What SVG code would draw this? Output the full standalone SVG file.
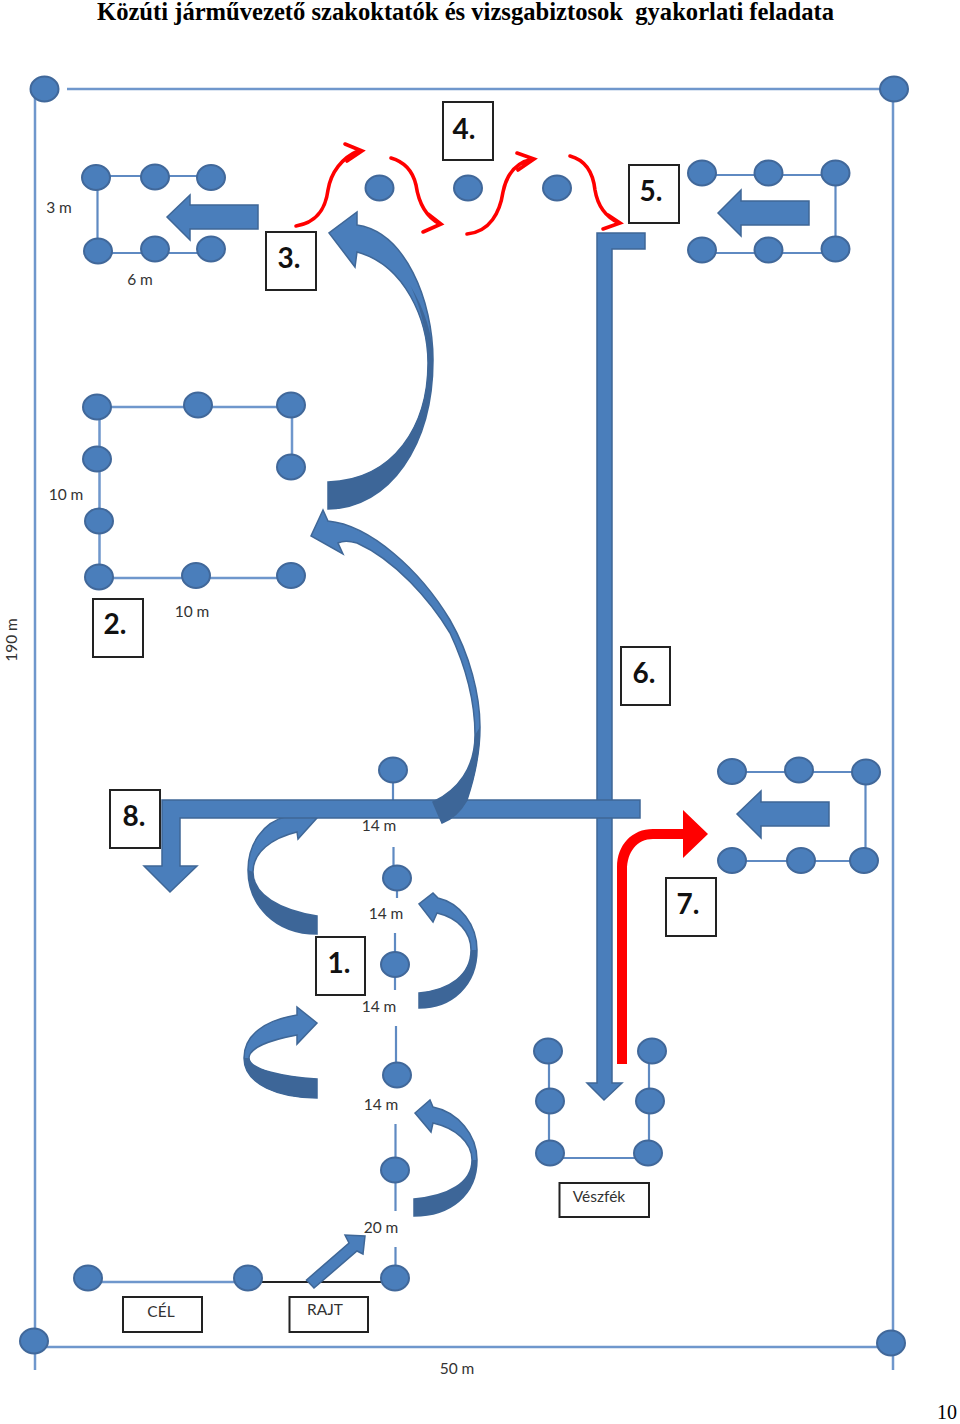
<svg xmlns="http://www.w3.org/2000/svg" width="960" height="1424" viewBox="0 0 960 1424">
<style>
.bg{fill:#fff}
.f{fill:none;stroke:#6f97cc;stroke-width:2.5}
.l{fill:none;stroke:#5f8ac2;stroke-width:2.2}
.c{fill:#4a7ebb;stroke:#41689a;stroke-width:2}
.a{fill:#4a7ebb;stroke:#3f6797;stroke-width:1.5;stroke-linejoin:miter}
.d{fill:#3d6698;stroke:none}
.r{fill:none;stroke:#f00;stroke-width:3.600;stroke-linecap:round}
.b{fill:#fff;stroke:#222;stroke-width:2}
.n{font:bold 28px Lato,"Liberation Sans",sans-serif;fill:#111;text-anchor:middle}
.s{font:15.500px Lato,"Liberation Sans",sans-serif;fill:#333;text-anchor:middle}
</style>
<rect class="bg" width="960" height="1424"/>
<text id="title" x="97" y="20" xml:space="preserve" font-family="'Liberation Serif',serif" font-weight="bold" font-size="24.600" fill="#000">Közúti járművezető szakoktatók és vizsgabiztosok  gyakorlati feladata</text>
<text id="page" x="957" y="1419" text-anchor="end" font-family="'Liberation Serif',serif" font-size="20" fill="#000">10</text>

<g id="connectors">
<path class="f" d="M67,89H893M35,89V1370M893,89V1370M34,1347H891"/>
<path class="l" d="M96,176H211M97.500,177V251M98,253H211"/>
<path class="l" d="M702,175H835M835.500,173V250M702,253H835"/>
<path class="f" d="M97,407H291M292,405V467M99.500,407V577M99,578H291"/>
<path class="l" d="M732,772H866M865.500,772V860M732,861H864"/>
<path class="l" d="M549,1051V1153M649,1051V1153M550,1158H648"/>
<path class="l" d="M393,782V800M393.500,847V866M397,890V898M395,933V990M396,1026V1062M395.500,1124V1160M395.500,1180V1211M395.500,1247V1270"/>
<path class="f" d="M88,1282H248"/>
<path fill="none" stroke="#222" stroke-width="2.200" d="M248,1282H395"/>
</g>

<g id="big-arrows">
<path class="a" d="M597,233H645V249H612V1083H622L604,1100L587,1083H597Z"/>
<path class="a" d="M317,916C280,910 253,895 253,872C253,852 272,838 297,832L298,839L317,818L296,808L288,816C262,822 248,845 248,870C248,905 275,934 317,934Z"/>
<path class="d" d="M317,916C280,910 253,895 253,872L248,870C248,905 275,934 317,934Z"/>
<path class="a" d="M162,800H640V818H180V866H197L170,892L144,866H162Z"/>
<path class="a" d="M433,802C458,790 475,768 475,735C475,700 465,665 450,633C430,600 395,560 357,543C350,541 344,540 338,543L343,554L311,536L323,510L328,521C370,525 420,570 450,620C470,655 480,695 480,727C480,760 472,785 467,800C460,812 450,820 442,823Z"/>
<path class="d" d="M433,802C458,790 475,768 475,735L480,727C480,760 472,785 467,800C460,812 450,820 442,823Z"/>
</g>

<g id="curved-arrows">
<g id="arrow-to-3">
<path class="a" d="M328,482C395,480 428,425 428,363C428,320 405,265 357,252L355,267L329,233L357,212L357,225C405,232 433,300 433,360C433,445 390,508 328,509Z"/>
<path class="d" d="M328,482C395,480 428,425 428,363C428,335 420,305 410,285C425,310 433,335 433,360C433,445 390,508 328,509Z"/>
</g>
<g id="slalom-r1">
<path class="a" d="M419,993C450,990 471,975 471,950C471,932 458,918 437,913L433,922L419,904L433,893L438,898C460,903 477,925 477,950C477,985 452,1008 419,1008Z"/>
<path class="d" d="M419,993C450,990 471,975 471,950L477,950C477,985 452,1008 419,1008Z"/>
</g>
<g id="slalom-l">
<path class="a" d="M317,1079C285,1077 249,1070 249,1058C249,1048 270,1040 297,1035L297,1044L317,1023L297,1007L297,1015C265,1020 244,1035 244,1058C244,1085 280,1098 317,1098Z"/>
<path class="d" d="M317,1079C285,1077 249,1070 249,1058L244,1058C244,1085 280,1098 317,1098Z"/>
</g>
<g id="slalom-r2">
<path class="a" d="M414,1199C448,1196 472,1183 472,1160C472,1142 455,1128 433,1123L431,1132L415,1113L430,1100L433,1107C458,1112 477,1135 477,1160C477,1195 450,1216 414,1216Z"/>
<path class="d" d="M414,1199C448,1196 472,1183 472,1160L477,1160C477,1195 450,1216 414,1216Z"/>
</g>
<path id="start-arrow" class="a" d="M306.500,1280L349,1243L345,1235L365,1236L363,1254L357,1251L314,1288Z"/>
</g>

<g id="left-arrows">
<path class="a" d="M167,217L190,195V205H258V229H190V240Z"/>
<path class="a" d="M718,213L741,190V201H809V225H741V236Z"/>
<path class="a" d="M737,814L761,791V802H829V826H761V838Z"/>
</g>

<g id="red-arrows">
<path class="r" d="M296,226C320,222 326,205 328,190C331,172 342,158 358,151M345,144L362,151L347,161"/>
<path class="r" d="M391,158C405,162 413,172 416,185C419,205 428,218 440,224M428,214L441,224L423,232"/>
<path class="r" d="M467,234C490,232 500,212 503,192C507,172 518,162 533,159M517,153L534,159L518,170"/>
<path class="r" d="M570,156C585,160 593,172 595,190C598,208 608,218 619,223M608,215L620,223L603,229"/>
<path id="red-7" d="M617,1064V867C617,845 632,829 653,829H683V810L708,834L683,858V839H653C637,839 627,852 627,870V1064Z" fill="#f00"/>
</g>

<g id="corners">
<ellipse class="c" cx="44.500" cy="89" rx="14" ry="12.500"/><ellipse class="c" cx="894" cy="89" rx="14" ry="12.500"/><ellipse class="c" cx="34" cy="1341" rx="14" ry="12.500"/><ellipse class="c" cx="891" cy="1343" rx="14" ry="12.500"/>
</g>
<g id="pad-3">
<ellipse class="c" cx="96" cy="177.500" rx="14" ry="12.500"/><ellipse class="c" cx="155" cy="177" rx="14" ry="12.500"/><ellipse class="c" cx="211" cy="177.500" rx="14" ry="12.500"/><ellipse class="c" cx="98" cy="251" rx="14" ry="12.500"/><ellipse class="c" cx="155" cy="249" rx="14" ry="12.500"/><ellipse class="c" cx="211" cy="249" rx="14" ry="12.500"/>
</g>
<g id="gates-4">
<ellipse class="c" cx="379.500" cy="188" rx="14" ry="12.500"/><ellipse class="c" cx="468" cy="188" rx="14" ry="12.500"/><ellipse class="c" cx="557" cy="188" rx="14" ry="12.500"/>
</g>
<g id="pad-5">
<ellipse class="c" cx="702" cy="173" rx="14" ry="12.500"/><ellipse class="c" cx="768.500" cy="173" rx="14" ry="12.500"/><ellipse class="c" cx="835.500" cy="173" rx="14" ry="12.500"/><ellipse class="c" cx="702" cy="250" rx="14" ry="12.500"/><ellipse class="c" cx="768.500" cy="250" rx="14" ry="12.500"/><ellipse class="c" cx="835.500" cy="249" rx="14" ry="12.500"/>
</g>
<g id="pad-2">
<ellipse class="c" cx="97" cy="407" rx="14" ry="12.500"/><ellipse class="c" cx="198" cy="405" rx="14" ry="12.500"/><ellipse class="c" cx="291" cy="405" rx="14" ry="12.500"/><ellipse class="c" cx="97" cy="459" rx="14" ry="12.500"/><ellipse class="c" cx="291" cy="467" rx="14" ry="12.500"/><ellipse class="c" cx="99" cy="521" rx="14" ry="12.500"/><ellipse class="c" cx="99" cy="577" rx="14" ry="12.500"/><ellipse class="c" cx="196" cy="575.500" rx="14" ry="12.500"/><ellipse class="c" cx="291" cy="575.500" rx="14" ry="12.500"/>
</g>
<g id="pad-7">
<ellipse class="c" cx="732" cy="771.500" rx="14" ry="12.500"/><ellipse class="c" cx="799" cy="770" rx="14" ry="12.500"/><ellipse class="c" cx="866" cy="772" rx="14" ry="12.500"/><ellipse class="c" cx="732" cy="860.500" rx="14" ry="12.500"/><ellipse class="c" cx="801" cy="860.500" rx="14" ry="12.500"/><ellipse class="c" cx="864" cy="860.500" rx="14" ry="12.500"/>
</g>
<g id="pad-brake">
<ellipse class="c" cx="548" cy="1051" rx="14" ry="12.500"/><ellipse class="c" cx="652" cy="1051" rx="14" ry="12.500"/><ellipse class="c" cx="550" cy="1101" rx="14" ry="12.500"/><ellipse class="c" cx="650" cy="1101" rx="14" ry="12.500"/><ellipse class="c" cx="550" cy="1153" rx="14" ry="12.500"/><ellipse class="c" cx="648" cy="1153" rx="14" ry="12.500"/>
</g>
<g id="slalom-gates">
<ellipse class="c" cx="393" cy="770" rx="14" ry="12.500"/><ellipse class="c" cx="397" cy="878" rx="14" ry="12.500"/><ellipse class="c" cx="395" cy="964.500" rx="14" ry="12.500"/><ellipse class="c" cx="397" cy="1075" rx="14" ry="12.500"/><ellipse class="c" cx="395" cy="1170" rx="14" ry="12.500"/><ellipse class="c" cx="395" cy="1278" rx="14" ry="12.500"/>
</g>
<g id="start-finish">
<ellipse class="c" cx="88" cy="1278" rx="14" ry="12.500"/><ellipse class="c" cx="248" cy="1278" rx="14" ry="12.500"/>
</g>

<g id="box-1"><rect class="b" x="316" y="937" width="49" height="58"/><text class="n" x="339" y="973">1.</text></g>
<g id="box-2"><rect class="b" x="93" y="599" width="50" height="58"/><text class="n" x="115" y="634">2.</text></g>
<g id="box-3"><rect class="b" x="266" y="232" width="50" height="58"/><text class="n" x="289" y="268">3.</text></g>
<g id="box-4"><rect class="b" x="443" y="102" width="50" height="58"/><text class="n" x="464" y="139">4.</text></g>
<g id="box-5"><rect class="b" x="629" y="165" width="50" height="58"/><text class="n" x="651" y="201">5.</text></g>
<g id="box-6"><rect class="b" x="621" y="647" width="49" height="58"/><text class="n" x="644" y="683">6.</text></g>
<g id="box-7"><rect class="b" x="666" y="878" width="50" height="58"/><text class="n" x="688" y="914">7.</text></g>
<g id="box-8"><rect class="b" x="110" y="790" width="50" height="58"/><text class="n" x="134" y="826">8.</text></g>
<g id="box-cel"><rect class="b" x="123" y="1297" width="79" height="35"/><text class="s" x="161" y="1317">CÉL</text></g>
<g id="box-rajt"><rect class="b" x="289.500" y="1297" width="78.500" height="35"/><text class="s" x="325" y="1315">RAJT</text></g>
<g id="box-brake"><rect class="b" x="559.500" y="1183" width="89.500" height="34"/><text class="s" x="599" y="1202">Vészfék</text></g>

<g id="labels">
<text class="s" x="59" y="213">3 m</text>
<text class="s" x="140" y="285">6 m</text>
<text class="s" x="66" y="500">10 m</text>
<text class="s" x="192" y="617">10 m</text>
<text class="s" x="379" y="831">14 m</text>
<text class="s" x="386" y="919">14 m</text>
<text class="s" x="379" y="1012">14 m</text>
<text class="s" x="381" y="1110">14 m</text>
<text class="s" x="381" y="1233">20 m</text>
<text class="s" x="457" y="1374">50 m</text>
<text class="s" transform="translate(17,640) rotate(-90)">190 m</text>
</g>
</svg>
